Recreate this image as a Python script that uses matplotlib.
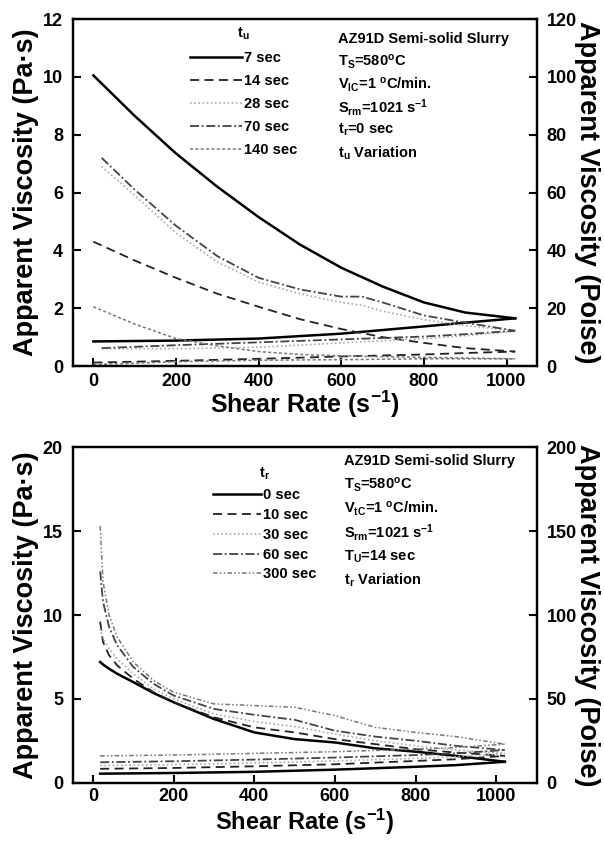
import numpy as np
import matplotlib
matplotlib.use("Agg")
import matplotlib.pyplot as plt

plt.rcParams["font.family"] = ["Liberation Sans", "DejaVu Sans"]
plt.rcParams["font.weight"] = "bold"
plt.rcParams["mathtext.fontset"] = "custom"
plt.rcParams["mathtext.rm"] = "Liberation Sans:bold"
plt.rcParams["mathtext.bf"] = "Liberation Sans:bold"
plt.rcParams["mathtext.it"] = "Liberation Sans:bold"

# ---- top panel: t_u variation (down sweep / up sweep) ----
tu_labels = ["7 sec", "14 sec", "28 sec", "70 sec", "140 sec"]
tu_down_x = [
    [0, 100, 200, 300, 400, 500, 600, 700, 800, 900, 1021],
    [0, 100, 200, 300, 400, 500, 600, 700, 800, 900, 1021],
    [20, 100, 200, 300, 400, 500, 600, 650, 700, 800, 900, 1021],
    [20, 100, 200, 300, 400, 500, 600, 650, 700, 800, 900, 1021],
    [0, 100, 200, 300, 400, 500, 600, 800, 1021],
]
tu_down_y = [
    [10.05, 8.65, 7.35, 6.2, 5.15, 4.2, 3.4, 2.75, 2.2, 1.85, 1.65],
    [4.3, 3.65, 3.05, 2.5, 2.05, 1.62, 1.28, 1.0, 0.8, 0.62, 0.5],
    [6.9, 5.9, 4.6, 3.6, 2.9, 2.5, 2.2, 2.1, 1.9, 1.6, 1.4, 1.22],
    [7.2, 6.1, 4.85, 3.8, 3.05, 2.65, 2.4, 2.4, 2.2, 1.75, 1.5, 1.22],
    [2.05, 1.45, 0.95, 0.7, 0.5, 0.4, 0.35, 0.3, 0.25],
]
tu_up_x = [
    [0, 200, 400, 600, 800, 900, 1021],
    [0, 200, 400, 600, 800, 900, 1021],
    [20, 200, 400, 600, 800, 900, 1021],
    [20, 200, 400, 600, 800, 900, 1021],
    [0, 200, 400, 600, 800, 900, 1021],
]
tu_up_y = [
    [0.85, 0.88, 0.95, 1.12, 1.37, 1.5, 1.65],
    [0.12, 0.18, 0.25, 0.33, 0.4, 0.45, 0.5],
    [0.6, 0.6, 0.65, 0.8, 0.95, 1.05, 1.2],
    [0.62, 0.72, 0.82, 0.92, 1.02, 1.1, 1.22],
    [0.05, 0.15, 0.2, 0.22, 0.25, 0.25, 0.25],
]

# ---- bottom panel: t_r variation ----
tr_labels = ["0 sec", "10 sec", "30 sec", "60 sec", "300 sec"]
tr_down_x = [18, 25, 40, 60, 100, 150, 200, 300, 400, 500, 600, 700, 800, 900, 1021]
tr_down_y = [
    [7.2, 7.05, 6.8, 6.5, 6.0, 5.35, 4.8, 3.8, 3.0, 2.6, 2.4, 2.05, 1.85, 1.6, 1.25],
    [9.6, 8.4, 7.6, 7.0, 6.2, 5.4, 4.8, 3.9, 3.3, 3.0, 2.6, 2.3, 2.0, 1.8, 1.6],
    [9.2, 8.6, 8.0, 7.4, 6.5, 5.6, 5.0, 4.1, 3.65, 3.35, 2.9, 2.5, 2.2, 1.95, 1.75],
    [12.6, 10.8, 9.3, 8.2, 6.9, 5.9, 5.2, 4.4, 4.05, 3.75, 3.1, 2.75, 2.5, 2.2, 1.95],
    [15.3, 12.0, 10.0, 8.7, 7.2, 6.1, 5.4, 4.7, 4.6, 4.5, 4.0, 3.3, 3.0, 2.75, 2.3],
]
tr_up_x = [18, 200, 400, 600, 800, 900, 1021]
tr_up_y = [
    [0.54, 0.58, 0.65, 0.78, 0.95, 1.05, 1.25],
    [0.83, 0.88, 0.98, 1.1, 1.3, 1.4, 1.6],
    [1.02, 1.08, 1.18, 1.3, 1.45, 1.55, 1.75],
    [1.22, 1.28, 1.38, 1.5, 1.65, 1.75, 1.95],
    [1.6, 1.65, 1.75, 1.85, 2.0, 2.1, 2.3],
]

top_notes = [r"AZ91D Semi-solid Slurry", r"T$_\mathrm{S}$=580$^\mathrm{o}$C",
             r"V$_\mathrm{IC}$=1 $^\mathrm{o}$C/min.", r"S$_\mathrm{rm}$=1021 s$^\mathrm{-1}$",
             r"t$_\mathrm{r}$=0 sec", r"t$_\mathrm{u}$ Variation"]
bot_notes = [r"AZ91D Semi-solid Slurry", r"T$_\mathrm{S}$=580$^\mathrm{o}$C",
             r"V$_\mathrm{tC}$=1 $^\mathrm{o}$C/min.", r"S$_\mathrm{rm}$=1021 s$^\mathrm{-1}$",
             r"T$_\mathrm{U}$=14 sec", r"t$_\mathrm{r}$ Variation"]

styles = [
    dict(color="black", lw=1.8, ls="-"),
    dict(color="#222222", lw=1.3, ls=(0, (5, 3))),
    dict(color="#aaaaaa", lw=1.2, ls=(0, (1, 1.5))),
    dict(color="#444444", lw=1.3, ls=(0, (5, 1.5, 1, 1.5))),
    dict(color="#777777", lw=1.1, ls=(0, (3, 1.5, 1, 1.5, 1, 1.5))),
]
styles_top = list(styles)
styles_top[4] = dict(color="#777777", lw=1.1, ls=(0, (2, 1.5)))


def style_axes(ax, ax2, ymax, ystep, xlim, rmax, rstep, xpad=5, xlabelpad=-1, xsize=18):
    ax.set_xlim(*xlim)
    ax.set_ylim(0, ymax)
    ax.set_xticks(np.arange(0, 1001, 200))
    ax.set_yticks(np.arange(0, ymax + 0.1, ystep))
    ax2.set_ylim(0, rmax)
    ax2.set_yticks(np.arange(0, rmax + 1, rstep))
    for a in (ax, ax2):
        a.tick_params(direction="in", length=6, width=1.5, labelsize=13, pad=7)
        for sp in a.spines.values():
            sp.set_linewidth(1.6)
    ax.tick_params(top=False, right=False)
    ax.tick_params(axis="x", pad=xpad)
    ax.set_xlabel(r"Shear Rate (s$^\mathrm{-1}$)", fontsize=xsize, fontweight="bold",
                  labelpad=xlabelpad)
    ax.set_ylabel("Apparent Viscosity (Pa·s)", fontsize=19.5, fontweight="bold", labelpad=3)
    ax2.set_ylabel("Apparent Viscosity (Poise)", fontsize=19.5, fontweight="bold",
                   rotation=270, labelpad=17)


fig = plt.figure(figsize=(6.04, 8.43), dpi=100)

# top panel
ax = fig.add_axes([0.1204, 0.5658, 0.7682, 0.4116])
ax2 = ax.twinx()
for i in range(5):
    st = styles_top[i]
    ax.plot(tu_down_x[i], tu_down_y[i], label=tu_labels[i], **st)
    ax.plot(tu_up_x[i], tu_up_y[i], **st)
style_axes(ax, ax2, 12, 2, (-50, 1073), 120, 20)
leg = ax.legend(loc="upper left", bbox_to_anchor=(0.23, 1.01), frameon=False,
                title=r"t$_\mathrm{u}$", prop={"weight": "bold", "size": 10.5},
                handlelength=3.6, handletextpad=0.15, labelspacing=0.62, borderpad=0.2)
leg.get_title().set_fontsize(10.5)
leg.get_title().set_fontweight("bold")
for k, s in enumerate(top_notes):
    ax.text(0.572, 0.9415 - k * 0.0655, s, transform=ax.transAxes, fontsize=10.5,
            fontweight="bold", va="center", ha="left")

# bottom panel
bx = fig.add_axes([0.1204, 0.0715, 0.7682, 0.3979])
bx2 = bx.twinx()
for i in range(5):
    st = styles[i]
    bx.plot(tr_down_x, tr_down_y[i], label=tr_labels[i], **st)
    bx.plot(tr_up_x, tr_up_y[i], **st)
style_axes(bx, bx2, 20, 5, (-50, 1100), 200, 50, xpad=4, xlabelpad=1, xsize=17)
leg = bx.legend(loc="upper left", bbox_to_anchor=(0.28, 0.975), frameon=False,
                title=r"t$_\mathrm{r}$", prop={"weight": "bold", "size": 10.5},
                handlelength=3.3, handletextpad=0.15, labelspacing=0.4, borderpad=0.2)
leg.get_title().set_fontsize(10.5)
leg.get_title().set_fontweight("bold")
for k, s in enumerate(bot_notes):
    bx.text(0.585, 0.958 - k * 0.071, s, transform=bx.transAxes, fontsize=10.5,
            fontweight="bold", va="center", ha="left")

fig.savefig("out.png", dpi=100)
